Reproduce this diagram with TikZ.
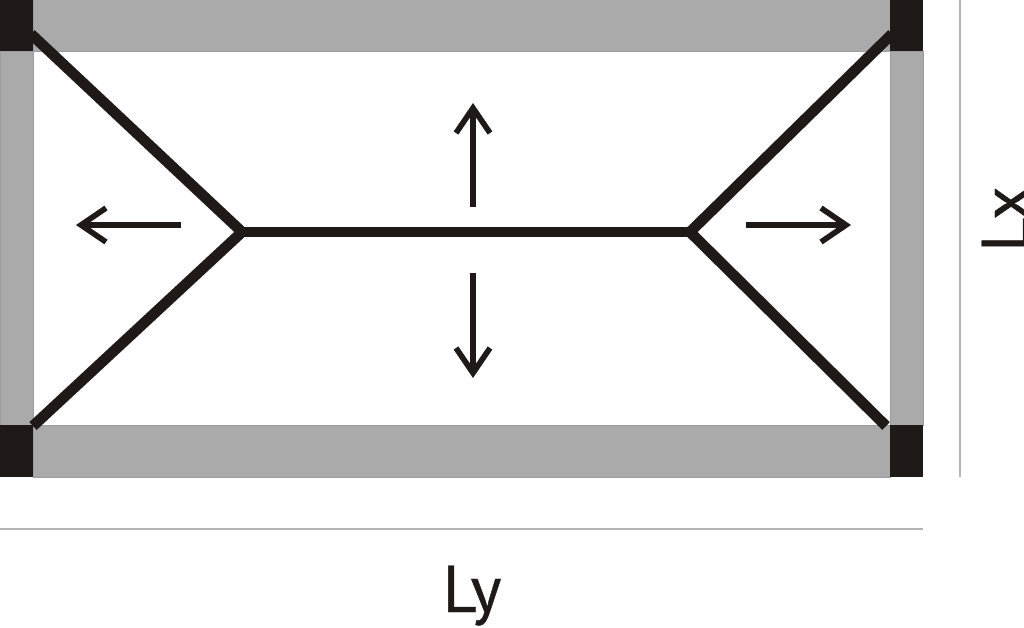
\documentclass[tikz,border=0pt]{standalone}
\usepackage{fontspec}
\setmainfont{PT Sans}

\definecolor{beamgray}{HTML}{AAAAAA}
\definecolor{beamedge}{HTML}{9C9C9C}
\definecolor{darkink}{HTML}{1F1A17}
\definecolor{dimgray}{HTML}{B4B4B4}

\tikzset{
	beam/.style={fill=beamgray, draw=beamedge, line width=0.7pt},
	column/.style={fill=darkink},
	ridge/.style={draw=darkink, line width=7.6pt, line cap=butt, line join=miter},
	loadarrow/.style={draw=darkink, line width=4pt, line join=miter},
	barbhead/.pic={\draw[loadarrow] (-25, -17) -- (0, 0) -- (-25, 17);},
	dimline/.style={draw=dimgray, line width=0.8pt},
	dimtext/.style={font=\fontsize{47}{47}\selectfont\addfontfeature{FakeBold=0.6}, text=darkink, inner sep=0pt}
}

\begin{document}
\begin{tikzpicture}[x=0.025cm, y=-0.025cm]
	\clip (0, 0) rectangle (1024, 627);
	\fill[white] (0, 0) rectangle (1024, 627);

	% beams
	\draw[beam] (33, -5) rectangle (890, 51);
	\draw[beam] (33, 425) rectangle (890, 477);
	\draw[beam] (0, 51) rectangle (33, 425);
	\draw[beam] (890, 51) rectangle (923, 425);

	% columns
	\foreach \cx in {0, 890} {
		\fill[column] (\cx, 0) rectangle ++(33, 51);
		\fill[column] (\cx, 425) rectangle ++(33, 52);
	}

	% slab lines
	\coordinate (ridgeL) at (242, 232);
	\coordinate (ridgeR) at (690, 232);
	\coordinate (cornerTL) at (31, 34);
	\coordinate (cornerBL) at (33, 426);
	\coordinate (cornerTR) at (892, 34);
	\coordinate (cornerBR) at (886, 426);

	\draw[ridge] (cornerTL) -- (ridgeL) -- (cornerBL);
	\draw[ridge] (cornerTR) -- (ridgeR) -- (cornerBR);
	\draw[ridge] (ridgeL) -- (ridgeR);

	% load directions
	\coordinate (upS) at (473, 207);
	\coordinate (upE) at (473, 108);
	\coordinate (downS) at (473, 273);
	\coordinate (downE) at (473, 373);
	\coordinate (leftS) at (181, 225);
	\coordinate (leftE) at (81, 225);
	\coordinate (rightS) at (746, 225);
	\coordinate (rightE) at (846, 225);

	\draw[loadarrow] (upS) -- (upE);
	\draw[loadarrow] (downS) -- (downE);
	\draw[loadarrow] (leftS) -- (leftE);
	\draw[loadarrow] (rightS) -- (rightE);

	\pic[rotate=90] at (upE) {barbhead};
	\pic[rotate=-90] at (downE) {barbhead};
	\pic[rotate=180] at (leftE) {barbhead};
	\pic at (rightE) {barbhead};

	% dimensions
	\coordinate (dimxT) at (960, 0);
	\coordinate (dimxB) at (960, 477);
	\coordinate (dimyL) at (0, 529);
	\coordinate (dimyR) at (923, 529);

	\draw[dimline] (dimxT) -- (dimxB);
	\draw[dimline] (dimyL) -- (dimyR);

	\node[dimtext, anchor=base] (labelLy) at (472, 612) {Ly};
	\node[dimtext, anchor=base, rotate=90] (labelLx) at (1028, 219) {Lx};
\end{tikzpicture}
\end{document}
